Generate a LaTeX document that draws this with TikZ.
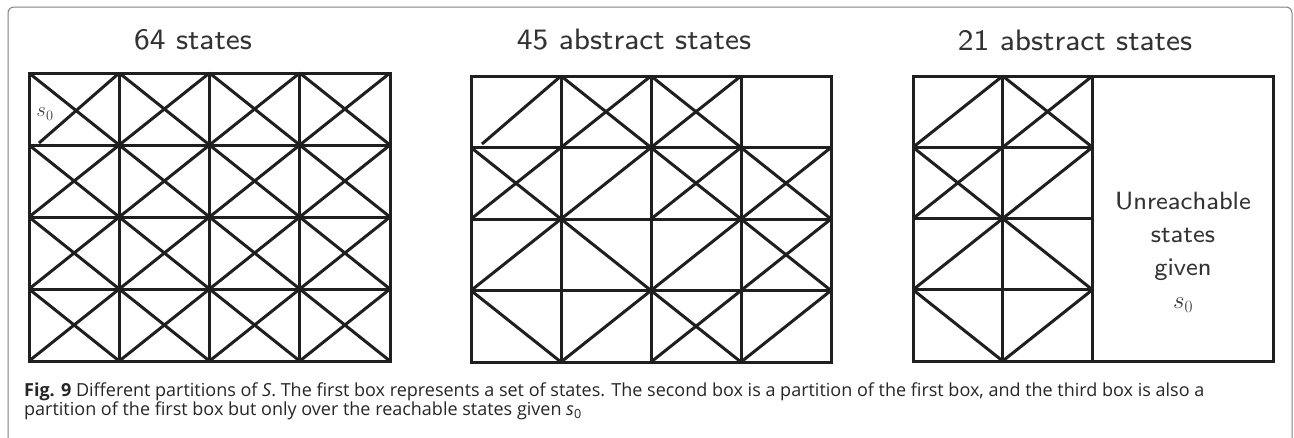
\documentclass[tikz,border=0pt]{standalone}
\usepackage{fontspec}
\newfontfamily\capfont{Open Sans}
\newfontfamily\lmseight{lmsans8-regular.otf}
\newcommand\slashc[2]{\draw[grid] ({\bx+#1*\cw},{\by+(#2+1)*\ch}) -- ({\bx+(#1+1)*\cw},{\by+#2*\ch});}
\newcommand\backc[2]{\draw[grid] ({\bx+#1*\cw},{\by+#2*\ch}) -- ({\bx+(#1+1)*\cw},{\by+(#2+1)*\ch});}
\newcommand\crossc[2]{\slashc{#1}{#2}\backc{#1}{#2}}
\begin{document}
\begin{tikzpicture}[x=1pt,y=-1pt,
  grid/.style={line width=3pt, draw=black!88},
  title/.style={font=\lmseight\fontsize{29.6}{36}\selectfont, text=black!80, inner sep=0pt},
  lbl/.style={font=\lmseight\fontsize{25}{33}\selectfont, text=black!80, inner sep=0pt, align=center},
  captext/.style={font=\capfont\fontsize{18}{19}\selectfont, text=black!85, inner sep=0pt, anchor=base west}]
\useasboundingbox (0,0) rectangle (1294,437);
\fill[white] (0,0) rectangle (1294,437);
\draw[black!50, line width=1pt, rounded corners=6pt] (8,445) -- (8,7) -- (1292,7) -- (1292,445);
% titles
\node[title] (t1) at (193,40) {64 states};
\node[title] (t2) at (634,40) {45 abstract states};
\node[title] (t3) at (1075,40) {21 abstract states};
% box 1
\def\bx{29}\def\by{73}\def\cw{90.25}\def\ch{72}
\draw[grid] (29,73) rectangle (390,361);
\foreach \i in {1,2,3}{\draw[grid] ({\bx+\i*\cw},73) -- ({\bx+\i*\cw},361);
  \draw[grid] (29,{\by+\i*\ch}) -- (390,{\by+\i*\ch});}
\backc{0}{0}
\draw[grid] (39,143) -- (119.25,73);
\foreach \c in {1,2,3}{\crossc{\c}{0}}
\foreach \r in {1,2,3}{\foreach \c in {0,1,2,3}{\crossc{\c}{\r}}}
\node[font=\fontsize{21}{24}\selectfont, text=black!75, inner sep=0pt] (s1) at (45,114) {$s_0$};
% box 2
\def\bx{471}\def\by{76}\def\cw{90}\def\ch{71.5}
\draw[grid] (471,76) rectangle (831,362);
\foreach \i in {1,2,3}{\draw[grid] ({\bx+\i*\cw},76) -- ({\bx+\i*\cw},362);
  \draw[grid] (471,{\by+\i*\ch}) -- (831,{\by+\i*\ch});}
\draw[grid] (482,144) -- (561,76);
\crossc{1}{0}\crossc{2}{0}
\crossc{0}{1}\slashc{1}{1}\crossc{2}{1}\crossc{3}{1}
\slashc{0}{2}\backc{1}{2}\slashc{2}{2}\crossc{3}{2}
\backc{0}{3}\slashc{1}{3}\crossc{2}{3}\slashc{3}{3}
% box 3
\def\bx{913}\def\by{76}\def\cw{89.7}\def\ch{71.25}
\draw[grid] (913,76) rectangle (1273,361);
\draw[grid] (1002.7,76) -- (1002.7,361);
\draw[grid] (1092.4,76) -- (1092.4,361);
\foreach \i in {1,2,3}{\draw[grid] (913,{\by+\i*\ch}) -- (1092.4,{\by+\i*\ch});}
\slashc{0}{0}\crossc{1}{0}
\crossc{0}{1}\slashc{1}{1}
\slashc{0}{2}\backc{1}{2}
\backc{0}{3}\slashc{1}{3}
\node[lbl] (u) at (1183,252) {Unreachable\\states\\given\\$s_0$};
% caption
\node[captext] (c1) at (24,396) {\textbf{Fig. 9} Different partitions of \textit{S}. The first box represents a set of states. The second box is a partition of the first box, and the third box is also a};
\node[captext] (c2) at (24,415) {partition of the first box but only over the reachable states given \textit{s}\textsubscript{0}};
\end{tikzpicture}
\end{document}
